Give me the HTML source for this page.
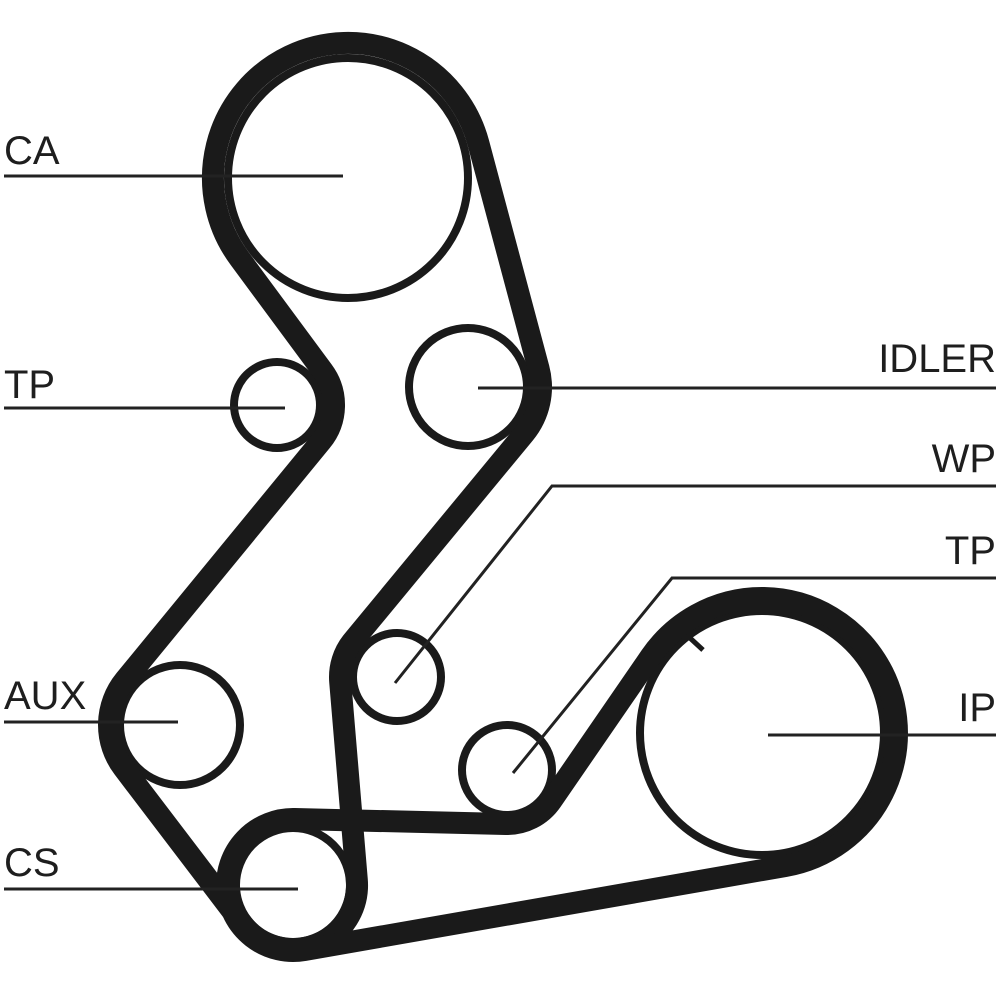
<!DOCTYPE html>
<html><head><meta charset="utf-8"><style>
html,body{margin:0;padding:0;background:#fff;}
svg{display:block;}
text{font-family:"Liberation Sans",sans-serif;font-size:40px;fill:#1e1e1e;}
</style></head><body>
<svg id="s" width="1000" height="1000" viewBox="0 0 1000 1000" xmlns="http://www.w3.org/2000/svg">
<g fill="none" stroke="#1a1a1a" stroke-width="8">
<circle cx="348" cy="178" r="120"/>
<circle cx="277" cy="405" r="43"/>
<circle cx="468" cy="387" r="59"/>
<circle cx="180" cy="725" r="60"/>
<circle cx="397" cy="677" r="44"/>
<circle cx="507" cy="770" r="45"/>
<circle cx="293" cy="885" r="57"/>
<circle cx="762" cy="733" r="122"/>
</g>
<path id="beltA" fill="none" stroke="#1a1a1a" stroke-width="22" stroke-linejoin="round"/>
<path id="beltB" fill="none" stroke="#1a1a1a" stroke-width="22" stroke-linejoin="round"/>
<line x1="690" y1="638" x2="703" y2="650" stroke="#1a1a1a" stroke-width="5"/>
<g stroke="#222" stroke-width="3" fill="none">
<polyline points="4,176 343,176"/>
<polyline points="4,408 285,408"/>
<polyline points="4,722 178,722"/>
<polyline points="4,889 298,889"/>
<polyline points="478,388 996,388"/>
<polyline points="395,683 552,486 996,486"/>
<polyline points="513,773 672,578 996,578"/>
<polyline points="768,735 996,735"/>
</g>
<text x="4" y="164">CA</text>
<text x="4" y="398">TP</text>
<text x="4" y="709">AUX</text>
<text x="4" y="876">CS</text>
<text x="996" y="372" text-anchor="end">IDLER</text>
<text x="996" y="472" text-anchor="end">WP</text>
<text x="996" y="564" text-anchor="end">TP</text>
<text x="996" y="721" text-anchor="end">IP</text>
</svg>
<script>
function tangent(c1,c2){
  var Dx=c2.x-c1.x,Dy=c2.y-c1.y,L=Math.hypot(Dx,Dy);
  var hx=Dx/L,hy=Dy/L,px=-hy,py=hx;
  var k=c2.s*c2.R-c1.s*c1.R,a=k/L,b=Math.sqrt(Math.max(0,1-a*a));
  var nx=a*hx+b*px,ny=a*hy+b*py;
  return {p1:{x:c1.x-c1.s*c1.R*nx,y:c1.y-c1.s*c1.R*ny},
          p2:{x:c2.x-c2.s*c2.R*nx,y:c2.y-c2.s*c2.R*ny}};
}
function belt(cs){
  var n=cs.length,T=[];
  for(var i=0;i<n;i++)T.push(tangent(cs[i],cs[(i+1)%n]));
  var d="M"+T[n-1].p2.x.toFixed(1)+","+T[n-1].p2.y.toFixed(1);
  for(var i=0;i<n;i++){
    var c=cs[i],en=T[(i+n-1)%n].p2,ex=T[i].p1;
    var a1=Math.atan2(en.y-c.y,en.x-c.x),a2=Math.atan2(ex.y-c.y,ex.x-c.x);
    var del=c.s>0?(a2-a1):(a1-a2);
    while(del<0)del+=2*Math.PI;while(del>=2*Math.PI)del-=2*Math.PI;
    d+=" A"+c.R+","+c.R+" 0 "+(del>Math.PI?1:0)+" "+(c.s>0?1:0)+" "+ex.x.toFixed(1)+","+ex.y.toFixed(1);
    var nx=T[i].p2;
    d+=" L"+nx.x.toFixed(1)+","+nx.y.toFixed(1);
  }
  return d+"Z";
}
var A=[{x:348,y:178,R:135,s:1},{x:468,y:387,R:73,s:1},{x:397,y:677,R:57,s:-1},
       {x:293,y:885,R:64,s:1},{x:180,y:725,R:71,s:1},{x:277,y:405,R:57,s:-1}];
var B=[{x:293,y:885,R:66,s:-1},{x:762,y:733,R:135,s:-1},{x:507,y:770,R:54,s:1}];
document.getElementById("beltA").setAttribute("d",belt(A));
document.getElementById("beltB").setAttribute("d",belt(B));
</script>
</body></html>
